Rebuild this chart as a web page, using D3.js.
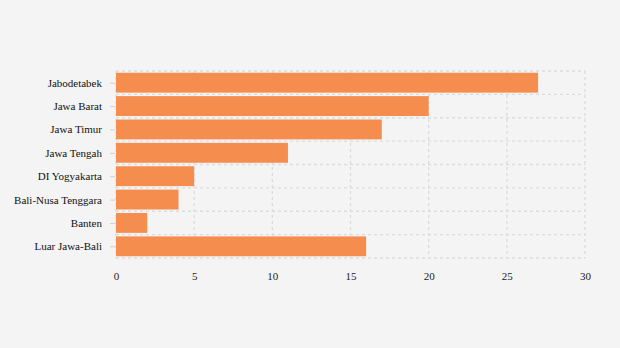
<!DOCTYPE html>
<html><head><meta charset="utf-8">
<script src="https://cdn.jsdelivr.net/npm/d3@7"></script>
<style>body{margin:0;background:#f4f4f4;}svg{display:block;}</style>
</head><body>
<script>
const categories = ["Jabodetabek","Jawa Barat","Jawa Timur","Jawa Tengah","DI Yogyakarta","Bali-Nusa Tenggara","Banten","Luar Jawa-Bali"];
const values = [27,20,17,11,5,4,2,16];
const xTicks = [0,5,10,15,20,25,30];

(function(){
const W=620,H=348;
const FONT="Liberation Serif, Tinos, Times New Roman, DejaVu Serif, serif";
const svg=d3.select("body").append("svg").attr("width",W).attr("height",H);
svg.append("rect").attr("width",W).attr("height",H).attr("fill","#f4f4f4");
const mL=116,mR=585,mT=71,mB=258;
const x=d3.scaleLinear().domain([0,30]).range([mL,mR]);
const y=d3.scaleBand().domain(categories).range([mT,mB]).paddingInner(0.15).paddingOuter(0.075);
const grid="#dcdcdc";
svg.append("g").selectAll("line").data(xTicks).join("line")
 .attr("x1",d=>x(d)).attr("x2",d=>x(d)).attr("y1",mT).attr("y2",mB)
 .attr("stroke",grid).attr("stroke-width",1.3).attr("stroke-dasharray","3,3");
const hb=d3.range(categories.length+1).map(i=>mT+i*(mB-mT)/categories.length);
svg.append("g").selectAll("line").data(hb).join("line")
 .attr("x1",mL).attr("x2",mR).attr("y1",d=>d).attr("y2",d=>d)
 .attr("stroke",grid).attr("stroke-width",1.3).attr("stroke-dasharray","3,3");
svg.append("g").selectAll("rect").data(categories).join("rect")
 .attr("x",x(0)).attr("y",c=>y(c)).attr("height",y.bandwidth())
 .attr("width",(c,i)=>x(values[i])-x(0)).attr("fill","#f58d4f");
const ya=svg.append("g").attr("transform",`translate(${mL-1},0.5)`).call(d3.axisLeft(y).tickSize(5).tickPadding(8));
ya.attr("font-family",FONT).attr("font-size",11);
ya.select(".domain").remove();
ya.selectAll(".tick line").attr("stroke","#d0d0d0");
ya.selectAll("text").attr("fill","#111");
const xa=svg.append("g").attr("transform",`translate(0,${mB})`).call(d3.axisBottom(x).tickValues(xTicks).tickSize(0).tickPadding(14));
xa.attr("font-family",FONT).attr("font-size",11);
xa.select(".domain").remove();
xa.selectAll("text").attr("fill","#222");
})();
</script>
</body></html>
